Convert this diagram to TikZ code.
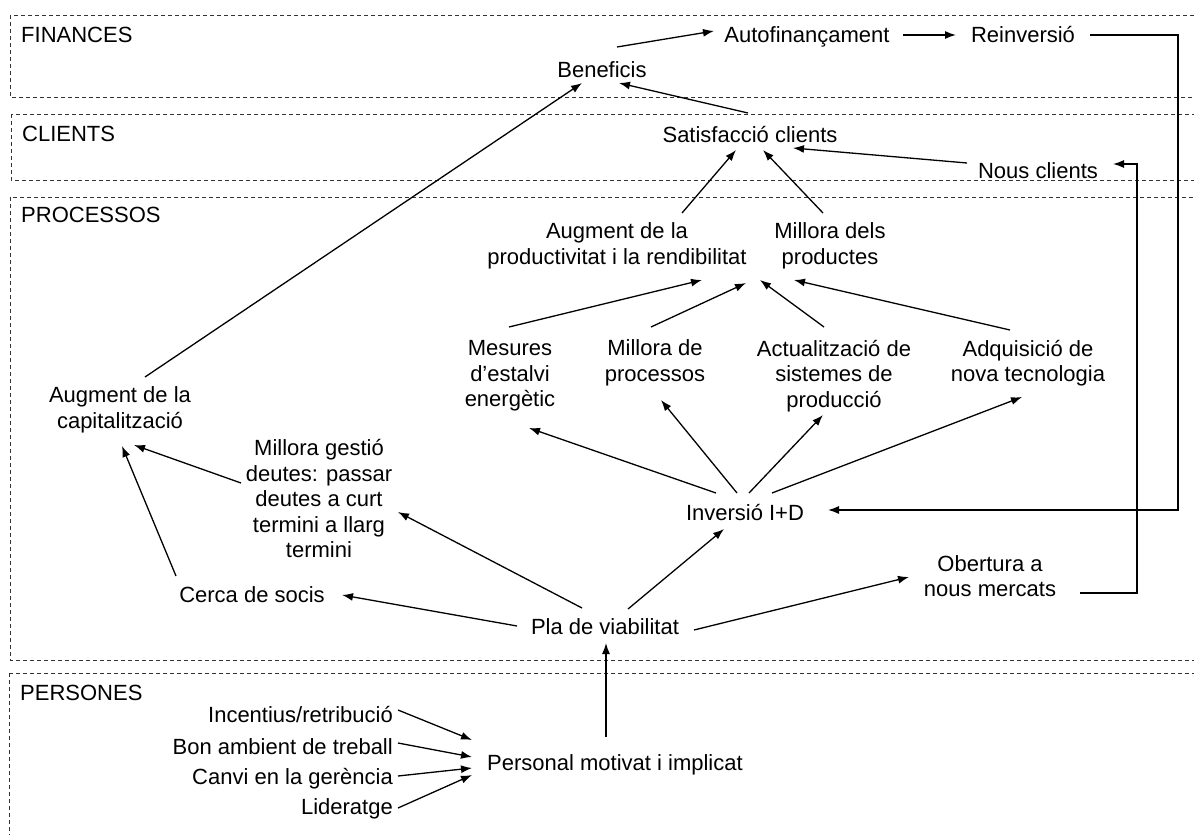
\documentclass[tikz,border=0pt]{standalone}
\usepackage{fontspec}
\setmainfont{Liberation Sans}
\usetikzlibrary{arrows.meta}
\begin{document}
\begin{tikzpicture}[x=1pt,y=-1pt,
  every node/.style={inner sep=0pt,font=\fontsize{22}{25.5}\selectfont},
  lbl/.style={anchor=base},
  ml/.style={align=center,anchor=center},
  rt/.style={anchor=base east},
  lane/.style={draw=black!80,line width=0.9pt,dash pattern=on 4pt off 3pt},
  arr/.style={draw,line width=1.3pt,-{Latex[length=11pt,width=8pt]}},
  ln/.style={draw,line width=1.3pt}]
\useasboundingbox (0,0) rectangle (1194,835);
\clip (0,0) rectangle (1194,835);
% lanes
\draw[lane] (10,15) rectangle (1220,97);
\draw[lane] (11,114) rectangle (1220,180);
\draw[lane] (10,197) rectangle (1220,660);
\draw[lane] (9,673) rectangle (1220,850);
\node[anchor=base west] (lfin) at (21,42) {FINANCES};
\node[anchor=base west] (lcli) at (22,141) {CLIENTS};
\node[anchor=base west] (lpro) at (21,222) {PROCESSOS};
\node[anchor=base west] (lper) at (20,700) {PERSONES};
% nodes
\node[lbl] (bene) at (602,77) {Beneficis};
\node[lbl] (auto) at (807,42) {Autofinançament};
\node[lbl] (rein) at (1023,42) {Reinversió};
\node[lbl] (sat) at (750,142) {Satisfacció clients};
\node[lbl] (nous) at (1038,178) {Nous clients};
\node[ml] (augprod) at (617,246) {Augment de la\\productivitat i la rendibilitat};
\node[ml] (milldels) at (830,246) {Millora dels\\productes};
\node[ml] (mes) at (510,376) {Mesures\\d’estalvi\\energètic};
\node[ml] (millproc) at (655,363) {Millora de\\processos};
\node[ml] (actual) at (834,376) {Actualització de\\sistemes de\\producció};
\node[ml] (adq) at (1028,363) {Adquisició de\\nova tecnologia};
\node[ml] (augcap) at (120,410) {Augment de la\\capitalització};
\node[ml] (millgest) at (319,499) {Millora gestió\\deutes: passar\\deutes a curt\\termini a llarg\\termini};
\node[ml] (obert) at (990,576) {Obertura a\\nous mercats};
\node[lbl] (inv) at (745,520) {Inversió I+D};
\node[lbl] (cerca) at (252,602) {Cerca de socis};
\node[lbl] (pla) at (605,634) {Pla de viabilitat};
\node[lbl] (pers) at (615,770) {Personal motivat i implicat};
\node[rt] (inc) at (393,722) {Incentius/retribució};
\node[rt] (bon) at (393,754) {Bon ambient de treball};
\node[rt] (canvi) at (393,784) {Canvi en la gerència};
\node[rt] (lid) at (393,814) {Lideratge};
% connectors
\draw[arr] ([shift={(15,-30)}]bene.base) -- ([shift={(-93,-11)}]auto.base);
\draw[arr] ([shift={(96,-7)}]auto.base) -- ([shift={(-67,-7)}]rein.base);
\draw[arr] ([shift={(67,-7)}]rein.base) -- ++(88,0) |- ([shift={(83,-10)}]inv.base);
\draw[arr] ([shift={(-2,-29)}]sat.base) -- ([shift={(17,6)}]bene.base);
\draw[arr] ([shift={(-71,-15)}]nous.base) -- ([shift={(43,6)}]sat.base);
\draw[arr] ([shift={(90,17)}]obert.center) -- ++(57,0) |- ([shift={(75,-14)}]nous.base);
\draw[arr] ([shift={(65,-33)}]augprod.center) -- ([shift={(-14,8)}]sat.base);
\draw[arr] ([shift={(-7,-33)}]milldels.center) -- ([shift={(13,8)}]sat.base);
\draw[arr] ([shift={(-1,-49)}]mes.center) -- ([shift={(85,34)}]augprod.center);
\draw[arr] ([shift={(-4,-36)}]millproc.center) -- ([shift={(129,37)}]augprod.center);
\draw[arr] ([shift={(-10,-49)}]actual.center) -- ([shift={(-70,34)}]milldels.center);
\draw[arr] ([shift={(-18,-33)}]adq.center) -- ([shift={(-36,34)}]milldels.center);
\draw[arr] ([shift={(-29,-27)}]inv.base) -- ([shift={(19,52)}]mes.center);
\draw[arr] ([shift={(-8,-27)}]inv.base) -- ([shift={(6,37)}]millproc.center);
\draw[arr] ([shift={(4,-27)}]inv.base) -- ([shift={(-11,39)}]actual.center);
\draw[arr] ([shift={(27,-27)}]inv.base) -- ([shift={(-6,34)}]adq.center);
\draw[arr] ([shift={(23,-25)}]pla.base) -- ([shift={(-21,9)}]inv.base);
\draw[arr] ([shift={(89,-4)}]pla.base) -- ([shift={(-81,1)}]obert.center);
\draw[arr] ([shift={(-88,-8)}]pla.base) -- ([shift={(90,-7)}]cerca.base);
\draw[arr] ([shift={(-23,-26)}]pla.base) -- ([shift={(79,13)}]millgest.center);
\draw[arr] ([shift={(-76,-26)}]cerca.base) -- ([shift={(2,36)}]augcap.center);
\draw[arr] ([shift={(-78,-16)}]millgest.center) -- ([shift={(14,35)}]augcap.center);
\draw[arr] ([shift={(25,-33)}]augcap.center) -- ([shift={(-20,6)}]bene.base);
\draw[arr] ([shift={(-9,-33)}]pers.base) -- ([shift={(1,9)}]pla.base);
\draw[arr] ([shift={(5,-12)}]inc.base east) -- ([shift={(-143,-30)}]pers.base);
\draw[arr] ([shift={(5,-11)}]bon.base east) -- ([shift={(-143,-13)}]pers.base);
\draw[arr] ([shift={(5,-8)}]canvi.base east) -- ([shift={(-143,-2)}]pers.base);
\draw[arr] ([shift={(5,-6)}]lid.base east) -- ([shift={(-143,5)}]pers.base);
\end{tikzpicture}
\end{document}
